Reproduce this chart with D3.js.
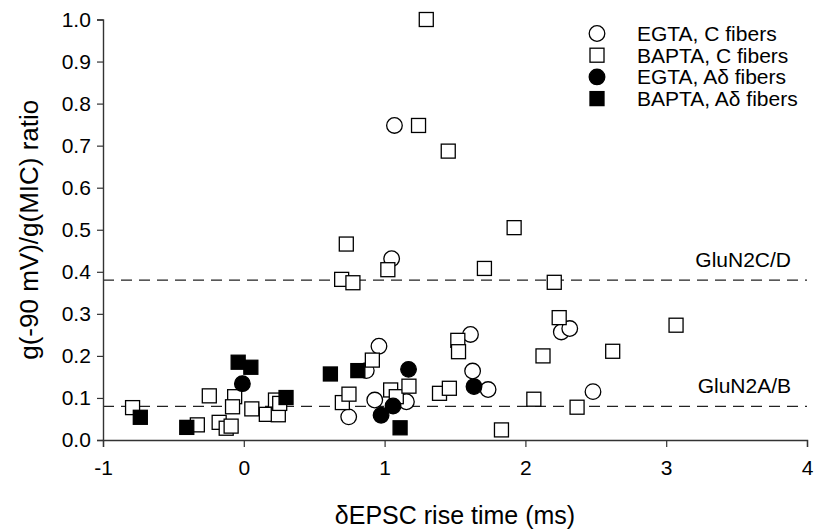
<!DOCTYPE html>
<html>
<head>
<meta charset="utf-8">
<script src="https://cdn.jsdelivr.net/npm/d3@7"></script>
<style>
  body { margin: 0; background: #fff; }
  text { font-family: "Liberation Sans", Arial, sans-serif; fill: #000; }
</style>
</head>
<body>
<script>
// data: [rise time (ms), ratio]
var egtaC = [[1.07, 0.748], [1.05, 0.431], [0.96, 0.223], [0.87, 0.165], [0.93, 0.095],
             [1.155, 0.091], [0.745, 0.055], [1.61, 0.251], [1.625, 0.164], [1.735, 0.12],
             [2.255, 0.257], [2.315, 0.265], [2.48, 0.115]];
var baptaC = [[-0.79, 0.077], [-0.33, 0.036], [-0.245, 0.105], [-0.175, 0.042], [-0.125, 0.028],
              [-0.09, 0.033], [-0.065, 0.103], [-0.08, 0.079], [0.057, 0.074], [0.16, 0.061],
              [0.245, 0.06], [0.225, 0.095], [0.255, 0.087], [0.70, 0.089], [0.747, 0.109],
              [0.913, 0.19], [1.043, 0.119], [1.083, 0.103], [1.173, 0.128], [1.39, 0.111],
              [1.46, 0.123], [1.52, 0.237], [1.525, 0.21], [2.06, 0.097], [2.367, 0.078],
              [1.83, 0.024], [2.125, 0.2], [2.24, 0.291], [2.205, 0.375], [2.62, 0.211],
              [3.07, 0.273], [0.728, 0.466], [0.695, 0.382], [0.775, 0.374], [1.023, 0.405],
              [1.296, 1.0], [1.241, 0.748], [1.452, 0.687], [1.92, 0.505], [1.709, 0.408]];
var egtaA = [[-0.01, 0.134], [0.975, 0.059], [1.06, 0.081], [1.17, 0.168], [1.635, 0.127]];
var baptaA = [[-0.735, 0.054], [-0.405, 0.030], [-0.04, 0.185], [0.05, 0.173], [0.30, 0.101],
              [0.615, 0.157], [0.81, 0.165], [1.11, 0.029]];

var refLines = [{ y: 0.38, label: "GluN2C/D" }, { y: 0.08, label: "GluN2A/B" }];
var legendItems = [
  { name: "EGTA, C fibers", shape: "circle", fill: "#fff" },
  { name: "BAPTA, C fibers", shape: "square", fill: "#fff" },
  { name: "EGTA, A\u03b4 fibers", shape: "circle", fill: "#000" },
  { name: "BAPTA, A\u03b4 fibers", shape: "square", fill: "#000" }
];
var xTicks = [-1, 0, 1, 2, 3, 4];
var yTicks = [0, 0.1, 0.2, 0.3, 0.4, 0.5, 0.6, 0.7, 0.8, 0.9, 1.0];

var width = 820, height = 532;

var svg = d3.select("body").append("svg")
            .attr("width", width)
            .attr("height", height);

var x = d3.scaleLinear().domain([-1, 4]).range([103, 807]);
var y = d3.scaleLinear().domain([0, 1]).range([440, 19.5]);

// reference lines for the subunit ranges
refLines.forEach(function(r) {
  svg.append("line")
     .attr("x1", x(-1))
     .attr("x2", x(4))
     .attr("y1", y(r.y))
     .attr("y2", y(r.y))
     .attr("stroke", "#222")
     .attr("stroke-width", 1.2)
     .attr("stroke-dasharray", "11 7");
  svg.append("text")
     .attr("x", 791)
     .attr("y", y(r.y) - 13)
     .attr("text-anchor", "end")
     .attr("font-size", 21)
     .text(r.label);
});

// axes (plain hyphen for negatives, as in the original)
var xAxis = svg.append("g")
               .attr("transform", "translate(0," + y(0) + ")")
               .call(d3.axisBottom(x).tickValues(xTicks).tickSize(7)
                       .tickFormat(function(d) { return String(d); }));
var yAxis = svg.append("g")
               .attr("transform", "translate(" + x(-1) + ",0)")
               .call(d3.axisLeft(y).tickValues(yTicks).tickSize(6)
                       .tickFormat(function(d) { return d.toFixed(1); }));

[xAxis, yAxis].forEach(function(a) {
  a.select(".domain").attr("stroke", "#333").attr("stroke-width", 1.4);
  a.selectAll(".tick line").attr("stroke", "#333").attr("stroke-width", 1.2);
  a.selectAll(".tick text").attr("font-size", 21).attr("font-family", "Liberation Sans, Arial, sans-serif").attr("fill", "#000");
});
xAxis.selectAll(".tick text").attr("dy", "1.2em");
yAxis.selectAll(".tick text").attr("dx", "-0.15em");

// axis titles
svg.append("text")
   .attr("x", (x(-1) + x(4)) / 2)
   .attr("y", 524)
   .attr("text-anchor", "middle")
   .attr("font-size", 25)
   .text("\u03b4EPSC rise time (ms)");

svg.append("text")
   .attr("transform", "translate(38," + y(0.5) + ") rotate(-90)")
   .attr("text-anchor", "middle")
   .attr("font-size", 26)
   .text("g(-90 mV)/g(MIC) ratio");

// markers
function drawCircles(data, fill) {
  svg.append("g").selectAll("circle")
     .data(data)
     .enter().append("circle")
     .attr("cx", function(d) { return x(d[0]); })
     .attr("cy", function(d) { return y(d[1]); })
     .attr("r", 7.8)
     .attr("fill", fill)
     .attr("stroke", "#000")
     .attr("stroke-width", 1.3);
}
function drawSquares(data, fill) {
  svg.append("g").selectAll("rect")
     .data(data)
     .enter().append("rect")
     .attr("x", function(d) { return x(d[0]) - 7; })
     .attr("y", function(d) { return y(d[1]) - 7; })
     .attr("width", 14)
     .attr("height", 14)
     .attr("fill", fill)
     .attr("stroke", "#000")
     .attr("stroke-width", 1.3);
}

drawCircles(egtaC, "#fff");
drawSquares(baptaC, "#fff");
drawCircles(egtaA, "#000");
drawSquares(baptaA, "#000");

// legend
var legend = svg.append("g");
legendItems.forEach(function(item, i) {
  var ly = 33.5 + i * 21.7;
  if (item.shape === "circle") {
    legend.append("circle")
          .attr("cx", 597).attr("cy", ly).attr("r", 7.8)
          .attr("fill", item.fill).attr("stroke", "#000").attr("stroke-width", 1.3);
  } else {
    legend.append("rect")
          .attr("x", 590).attr("y", ly - 7).attr("width", 14).attr("height", 14)
          .attr("fill", item.fill).attr("stroke", "#000").attr("stroke-width", 1.3);
  }
  legend.append("text")
        .attr("x", 637)
        .attr("y", ly + 7.5)
        .attr("font-size", 21)
        .text(item.name);
});
</script>
</body>
</html>
